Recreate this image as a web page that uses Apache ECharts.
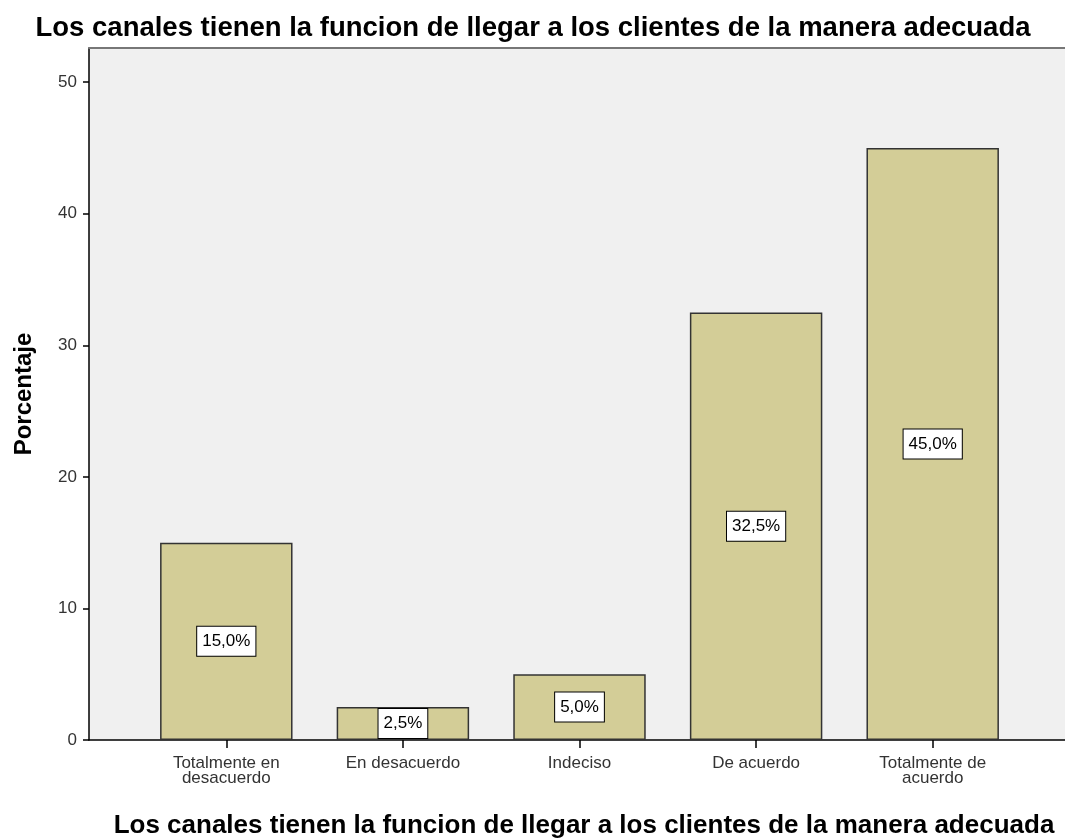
<!DOCTYPE html>
<html>
<head>
<meta charset="utf-8">
<script src="https://cdn.jsdelivr.net/npm/echarts@6/dist/echarts.min.js"></script>
<style>
  html, body { margin: 0; padding: 0; background: #fff; }
  #chart { width: 1065px; height: 840px; }
</style>
</head>
<body>
<div id="chart"></div>
<script>
const categories = ['Totalmente en\ndesacuerdo', 'En desacuerdo', 'Indeciso', 'De acuerdo', 'Totalmente de\nacuerdo'];
const percentages = [15.0, 2.5, 5.0, 32.5, 45.0];
const yTicks = [0, 10, 20, 30, 40, 50];
const chartTitle = 'Los canales tienen la funcion de llegar a los clientes de la manera adecuada';

const font = 'Liberation Sans, Arial, sans-serif';
const yMax = 52.6;

const chart = echarts.init(document.getElementById('chart'));

const option = {
  animation: false,
  textStyle: { fontFamily: font },
  title: [
    {
      text: chartTitle,
      left: 528,
      textAlign: 'center',
      top: 9,
      textStyle: { fontSize: 27.5, fontWeight: 'bold', color: '#000', fontFamily: font }
    },
    {
      text: chartTitle,
      left: 579,
      textAlign: 'center',
      top: 808,
      textStyle: { fontSize: 26, fontWeight: 'bold', color: '#000', fontFamily: font }
    }
  ],
  grid: [
    // background frame + y axis
    { left: 89, right: 0, top: 48, bottom: 100, show: true, backgroundColor: '#f0f0f0', borderWidth: 0 },
    // bars
    { left: 138, right: 44, top: 48, bottom: 100 }
  ],
  xAxis: [
    {
      gridIndex: 0, type: 'value', min: 0, max: 1,
      axisLine: { show: true, onZero: false, lineStyle: { color: '#000', width: 1.5 } },
      axisTick: { show: false }, axisLabel: { show: false }, splitLine: { show: false }
    },
    {
      gridIndex: 0, type: 'value', min: 0, max: 1, position: 'top',
      axisLine: { show: true, onZero: false, lineStyle: { color: '#777', width: 2 } },
      axisTick: { show: false }, axisLabel: { show: false }, splitLine: { show: false }
    },
    {
      gridIndex: 1, type: 'category', data: categories,
      axisLine: { show: false },
      axisTick: { show: true, alignWithLabel: true, length: 8, lineStyle: { color: '#000', width: 1.5 } },
      axisLabel: { color: '#333', fontSize: 17, lineHeight: 15, margin: 16, interval: 0, fontFamily: font }
    }
  ],
  yAxis: [
    {
      gridIndex: 0, type: 'value', min: 0, max: yMax,
      name: 'Porcentaje', nameLocation: 'middle', nameGap: 53,
      nameTextStyle: { fontSize: 24, fontWeight: 'bold', color: '#000', fontFamily: font },
      axisLine: { show: true, lineStyle: { color: '#000', width: 1.5 } },
      axisTick: { show: true, length: 6, customValues: yTicks, lineStyle: { color: '#000', width: 1.5 } },
      axisLabel: { color: '#333', fontSize: 17, margin: 12, customValues: yTicks, fontFamily: font },
      splitLine: { show: false }
    },
    {
      gridIndex: 1, type: 'value', min: 0, max: yMax, show: false
    }
  ],
  series: [
    {
      type: 'bar',
      xAxisIndex: 2,
      yAxisIndex: 1,
      data: percentages,
      barCategoryGap: '25%',
      itemStyle: { color: '#d3cd97', borderColor: '#333', borderWidth: 1.5 },
      label: {
        show: true,
        position: 'inside',
        formatter: p => p.value.toFixed(1).replace('.', ',') + '%',
        color: '#000',
        fontSize: 17,
        fontFamily: font,
        backgroundColor: '#fff',
        borderColor: '#000',
        borderWidth: 1,
        padding: [7, 5, 5, 5]
      }
    }
  ]
};

chart.setOption(option);
</script>
</body>
</html>
